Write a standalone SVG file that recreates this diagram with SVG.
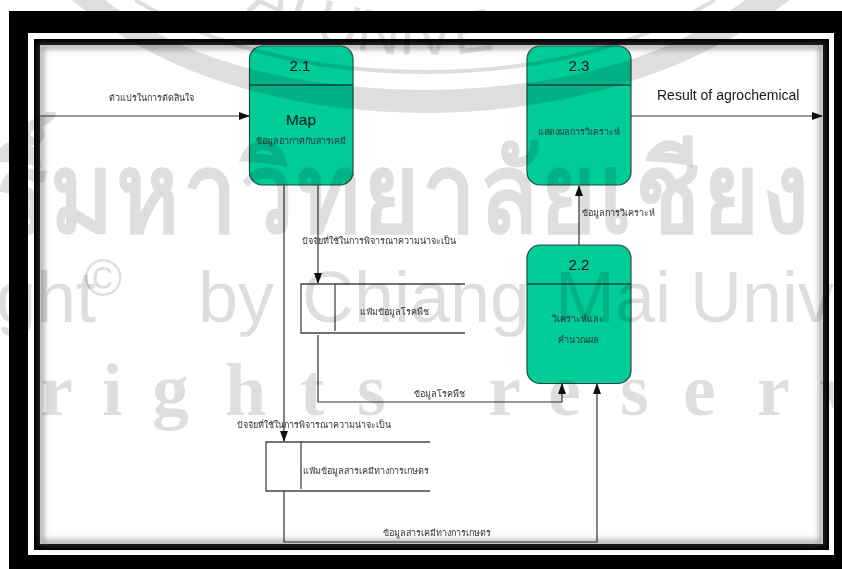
<svg xmlns="http://www.w3.org/2000/svg" width="842" height="569" viewBox="0 0 842 569">
<style>
text{font-family:"Liberation Sans","Noto Sans",sans-serif;fill:#1a1a1a}
.th{font-size:9px;fill:#333;filter:url(#t)}
.num{font-size:15px;text-anchor:middle;fill:#111;filter:url(#t)}
.mid{text-anchor:middle}
.proc{fill:#00cc99;stroke:#2a4a40;stroke-width:1.2}
.div{stroke:#0b4f3c;stroke-width:1.5}
.line{fill:none;stroke:#333;stroke-width:1.2}
.store{fill:none;stroke:#444;stroke-width:1.3}
.wm{fill:#000;fill-opacity:.13;font-weight:bold}
.wms{fill:#000;fill-opacity:.13}
.wm2{font-family:"Liberation Serif",serif;fill:#000;fill-opacity:.13;font-weight:bold}
.arc{fill:none;stroke:#000;stroke-opacity:.13}
</style>
<defs>
<marker id="a" markerWidth="11" markerHeight="8" refX="10" refY="4" orient="auto" markerUnits="userSpaceOnUse"><path d="M0 0L11 4L0 8Z" fill="#111"/></marker>
<filter id="b" x="-5%" y="-5%" width="110%" height="110%"><feGaussianBlur stdDeviation="3"/></filter>
<filter id="t" x="-5%" y="-20%" width="110%" height="140%"><feGaussianBlur stdDeviation="0.35"/></filter>
<path id="ringtext" d="M185 -30C270 35 350 55 425 55C500 55 580 35 665 -30"/>
</defs>
<rect width="842" height="569" fill="#fff"/>
<g id="frame">
<path fill-rule="evenodd" d="M9 11H842V569H9ZM28 33V555H834V33Z" fill="#000"/>
<rect x="37" y="42" width="789" height="505" fill="none" stroke="#000" stroke-width="6"/>
<rect x="41" y="46" width="781" height="497" fill="none" stroke="#555" stroke-width="3" filter="url(#b)"/>
</g>
<g id="p21"><rect class="proc" x="249.500" y="46" width="103.500" height="139" rx="13"/><line class="div" x1="249.500" y1="85" x2="353" y2="85"/><text class="num" x="300" y="71">2.1</text><text x="301" y="125" font-size="15.500" class="mid">Map</text><text class="th mid" x="301" y="144">ข้อมูลอากาศกับสารเคมี</text></g>
<g id="p23"><rect class="proc" x="527" y="46" width="104" height="139" rx="13"/><line class="div" x1="527" y1="85" x2="631" y2="85"/><text class="num" x="579" y="71">2.3</text><text class="th mid" x="579" y="135">แสดงผลการวิเคราะห์</text></g>
<g id="p22"><rect class="proc" x="527" y="245" width="104" height="138.500" rx="13"/><line class="div" x1="527" y1="284" x2="631" y2="284"/><text class="num" x="579" y="270">2.2</text><text class="th mid" x="578" y="322">วิเคราะห์และ</text><text class="th mid" x="578" y="343">คำนวณผล</text></g>
<g id="s1"><path class="store" d="M465 284H301V333H465M335 284V331"/><text class="th" x="360" y="315">แฟ้มข้อมูลโรคพืช</text></g>
<g id="s2"><path class="store" d="M430 442H266V491H430M301 442V489"/><text class="th" x="303" y="474">แฟ้มข้อมูลสารเคมีทางการเกษตร</text></g>
<g id="connectors">
<path class="line" marker-end="url(#a)" d="M40 116H249"/>
<path class="line" marker-end="url(#a)" d="M631 116H822"/>
<path class="line" marker-end="url(#a)" d="M318 185V283"/>
<path class="line" marker-end="url(#a)" d="M284 185V441"/>
<path class="line" marker-end="url(#a)" d="M318 335V402H562V384"/>
<path class="line" marker-end="url(#a)" d="M284 491V542H597V384"/>
<path class="line" marker-end="url(#a)" d="M579 245V186"/>
</g>
<g id="labels">
<text class="th mid" x="151" y="101">ตัวแปรในการตัดสินใจ</text>
<text x="657" y="100" font-size="14" filter="url(#t)">Result of agrochemical</text>
<text class="th" x="302" y="244">ปัจจัยที่ใช้ในการพิจารณาความน่าจะเป็น</text>
<text class="th" x="582" y="216">ข้อมูลการวิเคราะห์</text>
<text class="th" x="414" y="397">ข้อมูลโรคพืช</text>
<text class="th" x="237" y="428">ปัจจัยที่ใช้ในการพิจารณาความน่าจะเป็น</text>
<text class="th" x="383" y="536">ข้อมูลสารเคมีทางการเกษตร</text>
</g>
<g id="watermark">
<path class="wms" d="M72 0H105C190 65 300 88 425 90C550 88 660 65 745 0H790C690 75 560 113 425 113C290 113 160 75 72 0Z"/>
<path class="arc" stroke-width="4" d="M135 0C220 50 320 72 425 72C530 72 630 50 715 0"/>
<text class="wms" font-family="Liberation Serif" font-size="60"><textPath href="#ringtext" startOffset="14%">AI UNIVE</textPath></text>
<text class="wm" transform="translate(-4 232) scale(.86 1)" font-size="112" letter-spacing="3">ริ์มหาวิทยาลัยเชียง</text>
<text class="wms" x="-4" y="322" font-size="72">ght</text>
<text class="wms" x="84" y="296" font-size="52">©</text>
<text class="wms" x="198" y="322" font-size="72">by</text>
<text class="wms" x="302" y="322" font-size="72">Chiang</text>
<text class="wms" x="555" y="322" font-size="72">Mai</text>
<text class="wms" x="690" y="322" font-size="72">Unive</text>
<text class="wm2" y="415" font-size="74" x="40 102 152 225 300 357 488 548 620 683 757 820">rightsreserv</text>
</g>
</svg>
